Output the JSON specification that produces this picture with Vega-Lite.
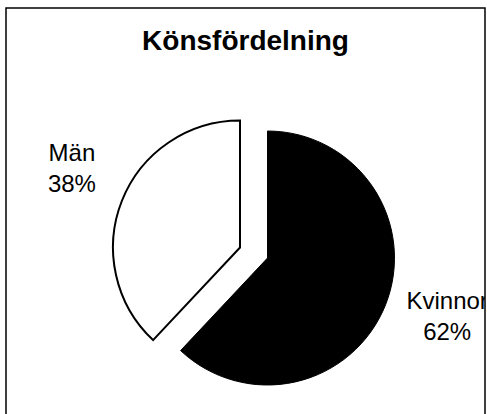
{
  "$schema": "https://vega.github.io/schema/vega-lite/v6.json",
  "autosize": "none",
  "padding": {"left": 6, "top": 8, "right": 2, "bottom": 0},
  "width": 479,
  "height": 412,
  "background": "white",
  "view": {"stroke": "black", "strokeWidth": 1.5},
  "title": {
    "text": "Könsfördelning",
    "fontSize": 28,
    "fontWeight": "bold",
    "font": "Liberation Sans",
    "color": "black",
    "anchor": "middle",
    "frame": "group",
    "offset": -70,
    "baseline": "alphabetic"
  },
  "data": {
    "values": [
      {"gender": "Kvinnor", "value": 62, "label": "Kvinnor\n62%"},
      {"gender": "Män", "value": 38, "label": "Män\n38%"}
    ]
  },
  "encoding": {
    "theta": {"field": "value", "type": "quantitative", "stack": true},
    "detail": {"field": "gender", "type": "nominal"}
  },
  "layer": [
    {
      "mark": {"type": "arc", "outerRadius": 127, "xOffset": 22, "yOffset": 44, "stroke": "black", "strokeWidth": 1, "fill": "black"},
      "encoding": {"opacity": {"condition": {"test": "datum.gender === 'Kvinnor'", "value": 1}, "value": 0}}
    },
    {
      "mark": {"type": "arc", "outerRadius": 127, "xOffset": -5.5, "yOffset": 33.5, "stroke": "black", "strokeWidth": 2, "fill": "white", "strokeJoin": "miter"},
      "encoding": {"opacity": {"condition": {"test": "datum.gender === 'Män'", "value": 1}, "value": 0}}
    },
    {
      "mark": {"type": "text", "radius": 190, "xOffset": 22, "yOffset": 44, "dx": 3, "dy": -26, "fontSize": 24, "font": "Liberation Sans", "color": "black", "lineBreak": "\n", "lineHeight": 31, "clip": true},
      "encoding": {
        "text": {"field": "label", "type": "nominal"},
        "opacity": {"condition": {"test": "datum.gender === 'Kvinnor'", "value": 1}, "value": 0}
      }
    },
    {
      "mark": {"type": "text", "radius": 184, "xOffset": -5.5, "yOffset": 33.5, "dx": 3, "dy": -26, "fontSize": 24, "font": "Liberation Sans", "color": "black", "lineBreak": "\n", "lineHeight": 31},
      "encoding": {
        "text": {"field": "label", "type": "nominal"},
        "opacity": {"condition": {"test": "datum.gender === 'Män'", "value": 1}, "value": 0}
      }
    }
  ]
}
